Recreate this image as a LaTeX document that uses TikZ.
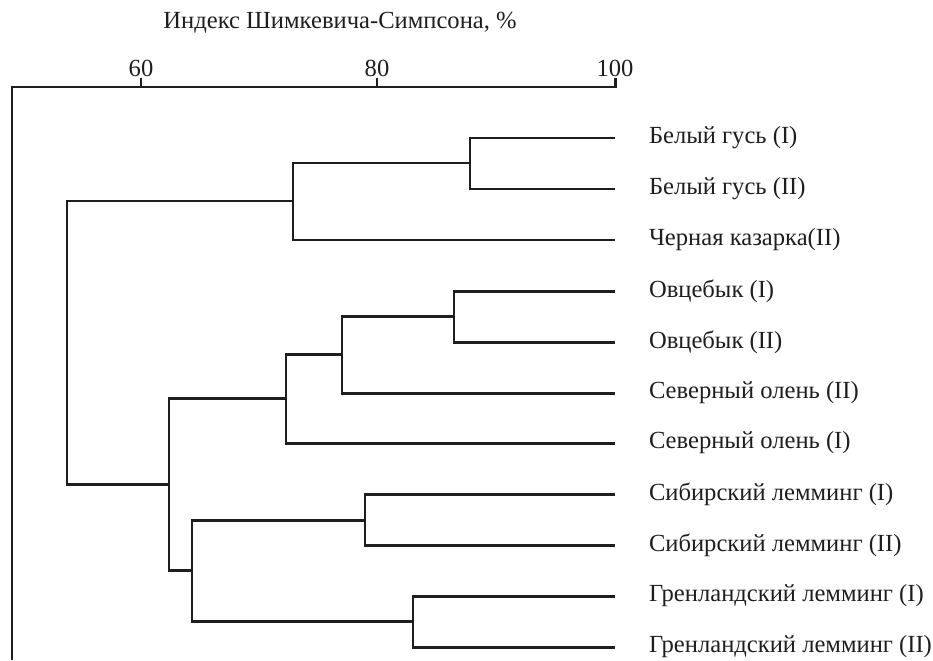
\documentclass[tikz,border=0pt]{standalone}
\usepackage{fontspec}
\setmainfont{Liberation Serif}
\definecolor{InkBlack}{HTML}{1E1E1E}
\tikzset{
  branch/.style={line width=1.7pt, draw=InkBlack, line join=miter},
  leaf/.style={anchor=west, inner xsep=0pt, outer xsep=0.68cm, text=InkBlack, font=\fontsize{14}{16}\selectfont},
  ticklabel/.style={text=InkBlack, font=\fontsize{14}{16}\selectfont},
  axistitle/.style={text=InkBlack, font=\fontsize{14}{16}\selectfont}
}

\begin{document}
\begin{tikzpicture}[x=0.02cm, y=-0.02cm]
\useasboundingbox (0,0) rectangle (933,660);

% axis
\node[axistitle] (title) at (340,23) {Индекс Шимкевича-Симпсона, \%};
\node[ticklabel] (t60) at (141,68) {60};
\node[ticklabel] (t80) at (377,68) {80};
\node[ticklabel] (t100) at (615,68) {100};
\draw[branch] (12,660) |- (615,87) -- (615,78);
\draw[branch] (141,87) -- (141,78);
\draw[branch] (377,87) -- (377,78);

% leaves
\node[leaf] (l1) at (615,138) {Белый гусь (I)};
\node[leaf] (l2) at (615,189) {Белый гусь (II)};
\node[leaf] (l3) at (615,240) {Черная казарка(II)};
\node[leaf] (l4) at (615,291) {Овцебык (I)};
\node[leaf] (l5) at (615,342) {Овцебык (II)};
\node[leaf] (l6) at (615,393) {Северный олень (II)};
\node[leaf] (l7) at (615,443) {Северный олень (I)};
\node[leaf] (l8) at (615,494) {Сибирский лемминг (I)};
\node[leaf] (l9) at (615,545) {Сибирский лемминг (II)};
\node[leaf] (l10) at (615,596) {Гренландский лемминг (I)};
\node[leaf] (l11) at (615,647) {Гренландский лемминг (II)};

% joins
\coordinate (goose) at (470,163);
\coordinate (birds) at (293,201);
\coordinate (musk) at (454,316);
\coordinate (deerA) at (342,354);
\coordinate (deerB) at (286,398);
\coordinate (sib) at (365,520);
\coordinate (gren) at (413,621);
\coordinate (lem) at (192,570);
\coordinate (mam) at (169,484);
\coordinate (root) at (67,340);

\draw[branch] (l1.west) -| (goose) |- (l2.west);
\draw[branch] (goose) -| (birds) |- (l3.west);
\draw[branch] (l4.west) -| (musk) |- (l5.west);
\draw[branch] (musk) -| (deerA) |- (l6.west);
\draw[branch] (deerA) -| (deerB) |- (l7.west);
\draw[branch] (l8.west) -| (sib) |- (l9.west);
\draw[branch] (l10.west) -| (gren) |- (l11.west);
\draw[branch] (sib) -| (lem) |- (gren);
\draw[branch] (deerB) -| (mam) |- (lem);
\draw[branch] (birds) -| (root) |- (mam);
\end{tikzpicture}
\end{document}
